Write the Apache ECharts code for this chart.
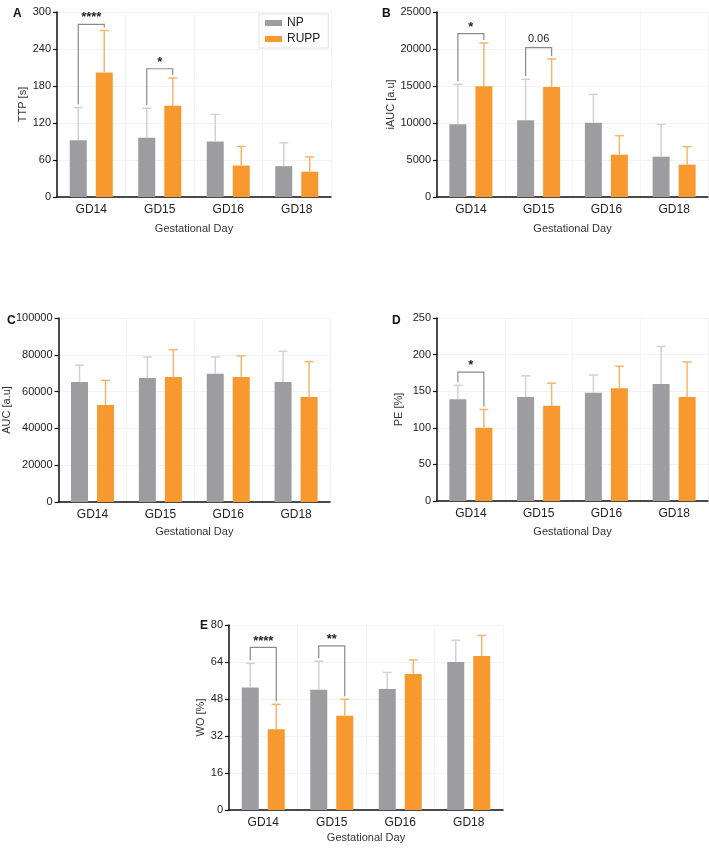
<!DOCTYPE html>
<html>
<head>
<meta charset="utf-8">
<script src="https://cdn.jsdelivr.net/npm/echarts@6/dist/echarts.min.js"></script>
<style>
  html, body { margin: 0; padding: 0; background: #fff; }
  #chart { width: 709px; height: 850px; }
</style>
</head>
<body>
<div id="chart"></div>
<script>
const days = ["GD14", "GD15", "GD16", "GD18"];

// A - TTP [s]
const ttpNP = [92, 96, 90, 50];
const ttpNPsd = [53, 48, 44, 38];
const ttpRUPP = [202, 148, 51, 41];
const ttpRUPPsd = [68, 45, 31, 24];
const ttpSig = [[0, 280, "****"], [1, 208, "*"]];

// B - iAUC [a.u]
const iaucNP = [9820, 10360, 10050, 5450];
const iaucNPsd = [5410, 5540, 3820, 4370];
const iaucRUPP = [14960, 14870, 5720, 4370];
const iaucRUPPsd = [5850, 3780, 2570, 2430];
const iaucSig = [[0, 22070, "*"], [1, 20180, "0.06"]];

// C - AUC [a.u]
const aucNP = [65200, 67400, 69700, 65200];
const aucNPsd = [9100, 11400, 9100, 16700];
const aucRUPP = [52700, 67900, 67900, 57100];
const aucRUPPsd = [13400, 14900, 11500, 19200];
const aucSig = [];

// D - PE [%]
const peNP = [139, 142, 148, 160];
const peNPsd = [19, 29, 24, 51];
const peRUPP = [100, 130, 154, 142];
const peRUPPsd = [25, 31, 30, 48];
const peSig = [[0, 176, "*"]];

// E - WO [%]
const woNP = [53, 52, 52.3, 64];
const woNPsd = [10.4, 12.3, 7.2, 9.4];
const woRUPP = [34.9, 40.8, 58.8, 66.6];
const woRUPPsd = [10.8, 7.1, 6.1, 8.9];
const woSig = [[0, 70.3, "****"], [1, 71, "**"]];

const grey = "#9d9da1";
const orange = "#f7992f";
const greyErr = "#d2d2d4";
const orangeErr = "#f9b56e";
const font = "'Liberation Sans', Arial, sans-serif";
const half = 13; // half distance between the two bar centres (px)

const panels = [
  { letter: "A", name: "TTP [s]", max: 300, step: 60, np: ttpNP, npsd: ttpNPsd, ru: ttpRUPP, rusd: ttpRUPPsd, sig: ttpSig,
    grid: { left: 57, top: 12, width: 274, height: 185 }, gap: 26, xgap: 26, lx: 13, ly: 8 },
  { letter: "B", name: "iAUC [a.u]", max: 25000, step: 5000, np: iaucNP, npsd: iaucNPsd, ru: iaucRUPP, rusd: iaucRUPPsd, sig: iaucSig,
    grid: { left: 437, top: 12, width: 271, height: 185 }, gap: 38, xgap: 26, lx: 382, ly: 8 },
  { letter: "C", name: "AUC [a.u]", max: 100000, step: 20000, np: aucNP, npsd: aucNPsd, ru: aucRUPP, rusd: aucRUPPsd, sig: aucSig,
    grid: { left: 58, top: 318, width: 272, height: 184 }, gap: 40, xgap: 24, lx: 7, ly: 315 },
  { letter: "D", name: "PE [%]", max: 250, step: 50, np: peNP, npsd: peNPsd, ru: peRUPP, rusd: peRUPPsd, sig: peSig,
    grid: { left: 437, top: 318, width: 271, height: 183 }, gap: 33, xgap: 25, lx: 392, ly: 315 },
  { letter: "E", name: "WO [%]", max: 80, step: 16, np: woNP, npsd: woNPsd, ru: woRUPP, rusd: woRUPPsd, sig: woSig,
    grid: { left: 229, top: 625, width: 274, height: 185 }, gap: 20, xgap: 22, lx: 200, ly: 620 }
];

function errRender(off, color) {
  return function (params, api) {
    const base = api.coord([api.value(0), api.value(1)]);
    const top = api.coord([api.value(0), api.value(2)]);
    const x = base[0] + off;
    const st = { stroke: color, lineWidth: 1.5 };
    return {
      type: "group",
      children: [
        { type: "line", shape: { x1: x, y1: base[1], x2: x, y2: top[1] }, style: st },
        { type: "line", shape: { x1: x - 4.5, y1: top[1], x2: x + 4.5, y2: top[1] }, style: st }
      ]
    };
  };
}

function sigRender(labels) {
  return function (params, api) {
    const c = api.value(0);
    const lvl = api.coord([c, api.value(1)]);
    const a = api.coord([c, api.value(2)]);
    const b = api.coord([c, api.value(3)]);
    const xl = lvl[0] - half, xr = lvl[0] + half;
    const txt = labels[params.dataIndex];
    const stars = txt.indexOf("*") >= 0;
    return {
      type: "group",
      children: [
        { type: "polyline",
          shape: { points: [[xl, a[1] - 3], [xl, lvl[1]], [xr, lvl[1]], [xr, b[1] - 3]] },
          style: { stroke: "#8a8a8a", lineWidth: 1.2, fill: null } },
        { type: "text",
          style: { text: txt, x: lvl[0], y: lvl[1] - (stars ? 0 : 3), align: "center", verticalAlign: "bottom",
                   fill: "#222", font: stars ? "bold 13px " + font : "11px " + font } }
      ]
    };
  };
}

const grids = [], xAxes = [], yAxes = [], series = [], graphics = [];

panels.forEach((p, i) => {
  grids.push(p.grid);
  xAxes.push({
    type: "category", gridIndex: i, data: days,
    name: "Gestational Day", nameLocation: "middle", nameGap: p.xgap,
    nameTextStyle: { fontFamily: font, fontSize: 11, color: "#333" },
    axisLine: { lineStyle: { color: "#111", width: 1.5 } },
    axisTick: { alignWithLabel: true, length: 4, lineStyle: { color: "#111", width: 1.2 } },
    axisLabel: { fontFamily: font, fontSize: 12, color: "#222", margin: 7 },
    splitLine: { show: true, lineStyle: { color: "#f3f3f3" } }
  });
  yAxes.push({
    type: "value", gridIndex: i, min: 0, max: p.max, interval: p.step,
    name: p.name, nameLocation: "middle", nameGap: p.gap, nameRotate: 90,
    nameTextStyle: { fontFamily: font, fontSize: 11, color: "#333" },
    axisLine: { show: true, lineStyle: { color: "#111", width: 1.5 } },
    axisTick: { show: true, length: 4, lineStyle: { color: "#111", width: 1.2 } },
    axisLabel: { fontFamily: font, fontSize: 11, color: "#222", margin: 6, formatter: v => String(v) },
    splitLine: { show: true, lineStyle: { color: "#f3f3f3" } }
  });
  series.push({
    name: "NP", type: "bar", xAxisIndex: i, yAxisIndex: i, data: p.np,
    barWidth: 17, barGap: "53%", itemStyle: { color: grey }, z: 2
  });
  series.push({
    name: "RUPP", type: "bar", xAxisIndex: i, yAxisIndex: i, data: p.ru,
    barWidth: 17, barGap: "53%", itemStyle: { color: orange }, z: 2
  });
  series.push({
    type: "custom", xAxisIndex: i, yAxisIndex: i, z: 3, silent: true,
    renderItem: errRender(-half, greyErr),
    data: p.np.map((v, k) => [k, v, v + p.npsd[k]])
  });
  series.push({
    type: "custom", xAxisIndex: i, yAxisIndex: i, z: 3, silent: true,
    renderItem: errRender(half, orangeErr),
    data: p.ru.map((v, k) => [k, v, v + p.rusd[k]])
  });
  if (p.sig.length) {
    series.push({
      type: "custom", xAxisIndex: i, yAxisIndex: i, z: 4, silent: true,
      renderItem: sigRender(p.sig.map(s => s[2])),
      data: p.sig.map(s => [s[0], s[1], p.np[s[0]] + p.npsd[s[0]], p.ru[s[0]] + p.rusd[s[0]]])
    });
  }
  graphics.push({
    type: "text", left: p.lx, top: p.ly,
    style: { text: p.letter, font: "bold 12px " + font, fill: "#111" }
  });
});

const chart = echarts.init(document.getElementById("chart"));
chart.setOption({
  animation: false,
  backgroundColor: "#fff",
  grid: grids,
  xAxis: xAxes,
  yAxis: yAxes,
  series: series,
  graphic: graphics,
  legend: {
    data: ["NP", "RUPP"], orient: "vertical", left: 259, top: 14,
    icon: "rect", itemWidth: 17, itemHeight: 6, itemGap: 4,
    padding: [3, 8, 3, 6], borderColor: "#e2e2e2", borderWidth: 1,
    textStyle: { fontFamily: font, fontSize: 12, color: "#222" }
  }
});
</script>
</body>
</html>
